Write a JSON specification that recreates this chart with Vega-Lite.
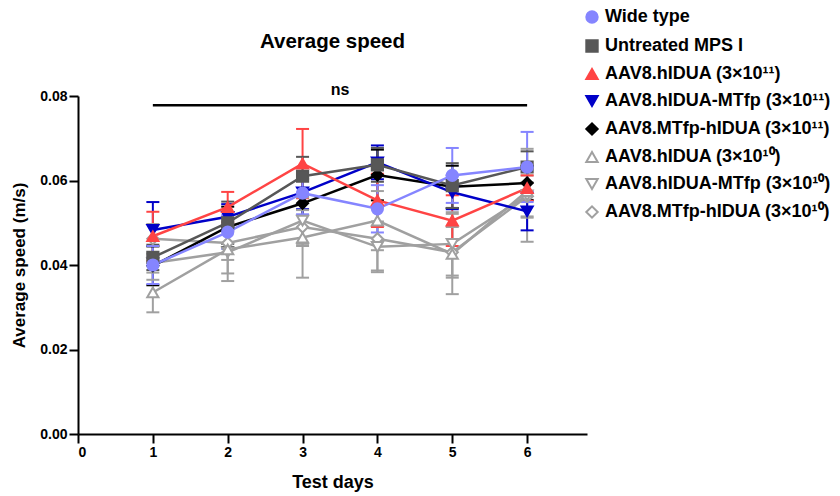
{
  "$schema": "https://vega.github.io/schema/vega-lite/v6.json",
  "autosize": {"type": "none"},
  "width": 509,
  "height": 338,
  "padding": {"left": 78, "top": 96, "right": 253, "bottom": 62},
  "background": "white",
  "title": {"text": "Average speed", "font": "Liberation Sans", "fontSize": 20.5, "fontWeight": "bold", "color": "black", "anchor": "middle", "offset": -44},
  "config": {
    "view": {"stroke": null},
    "font": "Liberation Sans",
    "axis": {"grid": false, "domainColor": "black", "domainWidth": 2, "tickColor": "black", "tickWidth": 2, "tickSize": 9, "labelPadding": 2, "labelFont": "Liberation Sans", "labelFontWeight": "bold", "labelFontSize": 14, "labelColor": "black", "titleFont": "Liberation Sans", "titleFontWeight": "bold", "titleFontSize": 17, "titleColor": "black"},
    "legend": {"labelFont": "Liberation Sans", "labelFontWeight": "bold", "labelFontSize": 18, "labelColor": "black", "symbolSize": 130, "symbolStrokeWidth": 2, "rowPadding": 9, "labelOffset": 4, "labelLimit": 300}
  },
  "datasets": {
    "speed": [
      {"group": "AAV8.MTfp-hIDUA (3×10¹⁰)", "day": 1, "mean": 0.0462, "low": 0.0427, "high": 0.0497},
      {"group": "AAV8.MTfp-hIDUA (3×10¹⁰)", "day": 2, "mean": 0.0452, "low": 0.0412, "high": 0.0492},
      {"group": "AAV8.MTfp-hIDUA (3×10¹⁰)", "day": 3, "mean": 0.0490, "low": 0.0450, "high": 0.0530},
      {"group": "AAV8.MTfp-hIDUA (3×10¹⁰)", "day": 4, "mean": 0.0462, "low": 0.0387, "high": 0.0537},
      {"group": "AAV8.MTfp-hIDUA (3×10¹⁰)", "day": 5, "mean": 0.0430, "low": 0.0370, "high": 0.0490},
      {"group": "AAV8.MTfp-hIDUA (3×10¹⁰)", "day": 6, "mean": 0.0562, "low": 0.0512, "high": 0.0612},
      {"group": "AAV8.hIDUA-MTfp (3×10¹⁰)", "day": 1, "mean": 0.0405, "low": 0.0365, "high": 0.0445},
      {"group": "AAV8.hIDUA-MTfp (3×10¹⁰)", "day": 2, "mean": 0.0430, "low": 0.0380, "high": 0.0480},
      {"group": "AAV8.hIDUA-MTfp (3×10¹⁰)", "day": 3, "mean": 0.0505, "low": 0.0445, "high": 0.0565},
      {"group": "AAV8.hIDUA-MTfp (3×10¹⁰)", "day": 4, "mean": 0.0443, "low": 0.0383, "high": 0.0503},
      {"group": "AAV8.hIDUA-MTfp (3×10¹⁰)", "day": 5, "mean": 0.0450, "low": 0.0375, "high": 0.0525},
      {"group": "AAV8.hIDUA-MTfp (3×10¹⁰)", "day": 6, "mean": 0.0565, "low": 0.0455, "high": 0.0675},
      {"group": "AAV8.hIDUA (3×10¹⁰)", "day": 1, "mean": 0.0335, "low": 0.0288, "high": 0.0382},
      {"group": "AAV8.hIDUA (3×10¹⁰)", "day": 2, "mean": 0.0437, "low": 0.0362, "high": 0.0512},
      {"group": "AAV8.hIDUA (3×10¹⁰)", "day": 3, "mean": 0.0465, "low": 0.0370, "high": 0.0560},
      {"group": "AAV8.hIDUA (3×10¹⁰)", "day": 4, "mean": 0.0505, "low": 0.0435, "high": 0.0575},
      {"group": "AAV8.hIDUA (3×10¹⁰)", "day": 5, "mean": 0.0426, "low": 0.0331, "high": 0.0521},
      {"group": "AAV8.hIDUA (3×10¹⁰)", "day": 6, "mean": 0.0575, "low": 0.0515, "high": 0.0635},
      {"group": "AAV8.MTfp-hIDUA (3×10¹¹)", "day": 1, "mean": 0.0398, "low": 0.0352, "high": 0.0444},
      {"group": "AAV8.MTfp-hIDUA (3×10¹¹)", "day": 2, "mean": 0.0490, "low": 0.0442, "high": 0.0538},
      {"group": "AAV8.MTfp-hIDUA (3×10¹¹)", "day": 3, "mean": 0.0546, "low": 0.0488, "high": 0.0604},
      {"group": "AAV8.MTfp-hIDUA (3×10¹¹)", "day": 4, "mean": 0.0613, "low": 0.0553, "high": 0.0673},
      {"group": "AAV8.MTfp-hIDUA (3×10¹¹)", "day": 5, "mean": 0.0585, "low": 0.0535, "high": 0.0635},
      {"group": "AAV8.MTfp-hIDUA (3×10¹¹)", "day": 6, "mean": 0.0594, "low": 0.0554, "high": 0.0634},
      {"group": "AAV8.hIDUA-MTfp (3×10¹¹)", "day": 1, "mean": 0.0483, "low": 0.0417, "high": 0.0549},
      {"group": "AAV8.hIDUA-MTfp (3×10¹¹)", "day": 2, "mean": 0.0514, "low": 0.0484, "high": 0.0544},
      {"group": "AAV8.hIDUA-MTfp (3×10¹¹)", "day": 3, "mean": 0.0572, "low": 0.0532, "high": 0.0612},
      {"group": "AAV8.hIDUA-MTfp (3×10¹¹)", "day": 4, "mean": 0.0643, "low": 0.0603, "high": 0.0683},
      {"group": "AAV8.hIDUA-MTfp (3×10¹¹)", "day": 5, "mean": 0.0572, "low": 0.0532, "high": 0.0612},
      {"group": "AAV8.hIDUA-MTfp (3×10¹¹)", "day": 6, "mean": 0.0527, "low": 0.0482, "high": 0.0572},
      {"group": "AAV8.hIDUA (3×10¹¹)", "day": 1, "mean": 0.0468, "low": 0.0410, "high": 0.0526},
      {"group": "AAV8.hIDUA (3×10¹¹)", "day": 2, "mean": 0.0537, "low": 0.0501, "high": 0.0573},
      {"group": "AAV8.hIDUA (3×10¹¹)", "day": 3, "mean": 0.0640, "low": 0.0558, "high": 0.0722},
      {"group": "AAV8.hIDUA (3×10¹¹)", "day": 4, "mean": 0.0553, "low": 0.0490, "high": 0.0616},
      {"group": "AAV8.hIDUA (3×10¹¹)", "day": 5, "mean": 0.0505, "low": 0.0445, "high": 0.0565},
      {"group": "AAV8.hIDUA (3×10¹¹)", "day": 6, "mean": 0.0582, "low": 0.0552, "high": 0.0612},
      {"group": "Untreated MPS I", "day": 1, "mean": 0.0418, "low": 0.0388, "high": 0.0448},
      {"group": "Untreated MPS I", "day": 2, "mean": 0.0500, "low": 0.0450, "high": 0.0550},
      {"group": "Untreated MPS I", "day": 3, "mean": 0.0610, "low": 0.0564, "high": 0.0656},
      {"group": "Untreated MPS I", "day": 4, "mean": 0.0637, "low": 0.0597, "high": 0.0677},
      {"group": "Untreated MPS I", "day": 5, "mean": 0.0588, "low": 0.0535, "high": 0.0641},
      {"group": "Untreated MPS I", "day": 6, "mean": 0.0632, "low": 0.0595, "high": 0.0669},
      {"group": "Wide type", "day": 1, "mean": 0.0400, "low": 0.0355, "high": 0.0445},
      {"group": "Wide type", "day": 2, "mean": 0.0478, "low": 0.0438, "high": 0.0518},
      {"group": "Wide type", "day": 3, "mean": 0.0570, "low": 0.0520, "high": 0.0620},
      {"group": "Wide type", "day": 4, "mean": 0.0533, "low": 0.0477, "high": 0.0589},
      {"group": "Wide type", "day": 5, "mean": 0.0612, "low": 0.0547, "high": 0.0677},
      {"group": "Wide type", "day": 6, "mean": 0.0632, "low": 0.0549, "high": 0.0715}
    ],
    "annot": [
      {"start": 1, "end": 6, "level": 0.0778, "mid": 3.5, "labelLevel": 0.0815, "label": "ns"}
    ]
  },
  "encoding": {
    "x": {"type": "quantitative",
      "scale": {"domain": [0, 6.8], "nice": false},
      "axis": {"values": [0, 1, 2, 3, 4, 5, 6], "format": "d", "title": "Test days", "titleFontSize": 18, "titlePadding": 14}},
    "y": {"type": "quantitative",
      "scale": {"domain": [0, 0.08], "nice": false},
      "axis": {"values": [0, 0.02, 0.04, 0.06, 0.08], "format": ".2f", "title": "Average speed (m/s)", "titlePadding": 11}}
  },
  "layer": [
    {
      "data": {"name": "annot"},
      "mark": {"type": "rule", "color": "black", "strokeWidth": 2.5},
      "encoding": {
        "x": {"field": "start", "type": "quantitative", "title": "Test days"},
        "x2": {"field": "end"},
        "y": {"field": "level", "type": "quantitative", "title": "Average speed (m/s)"}
      }
    },
    {
      "data": {"name": "annot"},
      "mark": {"type": "text", "font": "Liberation Sans", "fontWeight": "bold", "fontSize": 16, "color": "black", "clip": false, "baseline": "middle"},
      "encoding": {
        "x": {"field": "mid", "type": "quantitative", "title": "Test days"},
        "y": {"field": "labelLevel", "type": "quantitative", "title": "Average speed (m/s)"},
        "text": {"field": "label"}
      }
    },
    {
      "data": {"name": "speed"},
      "mark": {"type": "rule", "strokeWidth": 2},
      "encoding": {
        "x": {"field": "day", "type": "quantitative", "title": "Test days"},
        "y": {"field": "low", "type": "quantitative", "title": "Average speed (m/s)"},
        "y2": {"field": "high"},
        "stroke": {"field": "group", "type": "nominal", "title": "group",
          "legend": {"title": null, "orient": "none", "legendX": 505, "legendY": -88}}
      }
    },
    {
      "data": {"name": "speed"},
      "mark": {"type": "point", "shape": "stroke", "size": 169, "strokeWidth": 2, "filled": false, "opacity": 1},
      "encoding": {
        "x": {"field": "day", "type": "quantitative", "title": "Test days"},
        "y": {"field": "low", "type": "quantitative", "title": "Average speed (m/s)"},
        "stroke": {"field": "group", "type": "nominal", "title": "group",
          "legend": {"title": null, "orient": "none", "legendX": 505, "legendY": -88}}
      }
    },
    {
      "data": {"name": "speed"},
      "mark": {"type": "point", "shape": "stroke", "size": 169, "strokeWidth": 2, "filled": false, "opacity": 1},
      "encoding": {
        "x": {"field": "day", "type": "quantitative", "title": "Test days"},
        "y": {"field": "high", "type": "quantitative", "title": "Average speed (m/s)"},
        "stroke": {"field": "group", "type": "nominal", "title": "group",
          "legend": {"title": null, "orient": "none", "legendX": 505, "legendY": -88}}
      }
    },
    {
      "data": {"name": "speed"},
      "mark": {"type": "line", "strokeWidth": 2.5},
      "encoding": {
        "x": {"field": "day", "type": "quantitative", "title": "Test days"},
        "y": {"field": "mean", "type": "quantitative", "title": "Average speed (m/s)"},
        "stroke": {"field": "group", "type": "nominal", "title": "group",
          "legend": {"title": null, "orient": "none", "legendX": 505, "legendY": -88},
          "scale": {"domain": ["Wide type", "Untreated MPS I", "AAV8.hIDUA (3×10¹¹)", "AAV8.hIDUA-MTfp (3×10¹¹)", "AAV8.MTfp-hIDUA (3×10¹¹)", "AAV8.hIDUA (3×10¹⁰)", "AAV8.hIDUA-MTfp (3×10¹⁰)", "AAV8.MTfp-hIDUA (3×10¹⁰)"],
                    "range": ["#8585FF", "#575757", "#FF4444", "#0000C8", "#000000", "#A0A0A0", "#A0A0A0", "#A0A0A0"]}},
        "order": {"field": "day"}
      }
    },
    {
      "data": {"name": "speed"},
      "mark": {"type": "point", "filled": true, "size": 125, "strokeWidth": 2, "opacity": 1},
      "encoding": {
        "x": {"field": "day", "type": "quantitative", "title": "Test days"},
        "y": {"field": "mean", "type": "quantitative", "title": "Average speed (m/s)"},
        "stroke": {"field": "group", "type": "nominal", "title": "group",
          "legend": {"title": null, "orient": "none", "legendX": 505, "legendY": -88}},
        "fill": {"field": "group", "type": "nominal", "title": "group",
          "legend": {"title": null, "orient": "none", "legendX": 505, "legendY": -88},
          "scale": {"domain": ["Wide type", "Untreated MPS I", "AAV8.hIDUA (3×10¹¹)", "AAV8.hIDUA-MTfp (3×10¹¹)", "AAV8.MTfp-hIDUA (3×10¹¹)", "AAV8.hIDUA (3×10¹⁰)", "AAV8.hIDUA-MTfp (3×10¹⁰)", "AAV8.MTfp-hIDUA (3×10¹⁰)"],
                    "range": ["#8585FF", "#575757", "#FF4444", "#0000C8", "#000000", "white", "white", "white"]}},
        "shape": {"field": "group", "type": "nominal", "title": "group",
          "legend": {"title": null, "orient": "none", "legendX": 505, "legendY": -88},
          "scale": {"domain": ["Wide type", "Untreated MPS I", "AAV8.hIDUA (3×10¹¹)", "AAV8.hIDUA-MTfp (3×10¹¹)", "AAV8.MTfp-hIDUA (3×10¹¹)", "AAV8.hIDUA (3×10¹⁰)", "AAV8.hIDUA-MTfp (3×10¹⁰)", "AAV8.MTfp-hIDUA (3×10¹⁰)"],
                    "range": ["circle", "square", "triangle-up", "triangle-down", "diamond", "triangle-up", "triangle-down", "diamond"]}}
      }
    }
  ]
}
